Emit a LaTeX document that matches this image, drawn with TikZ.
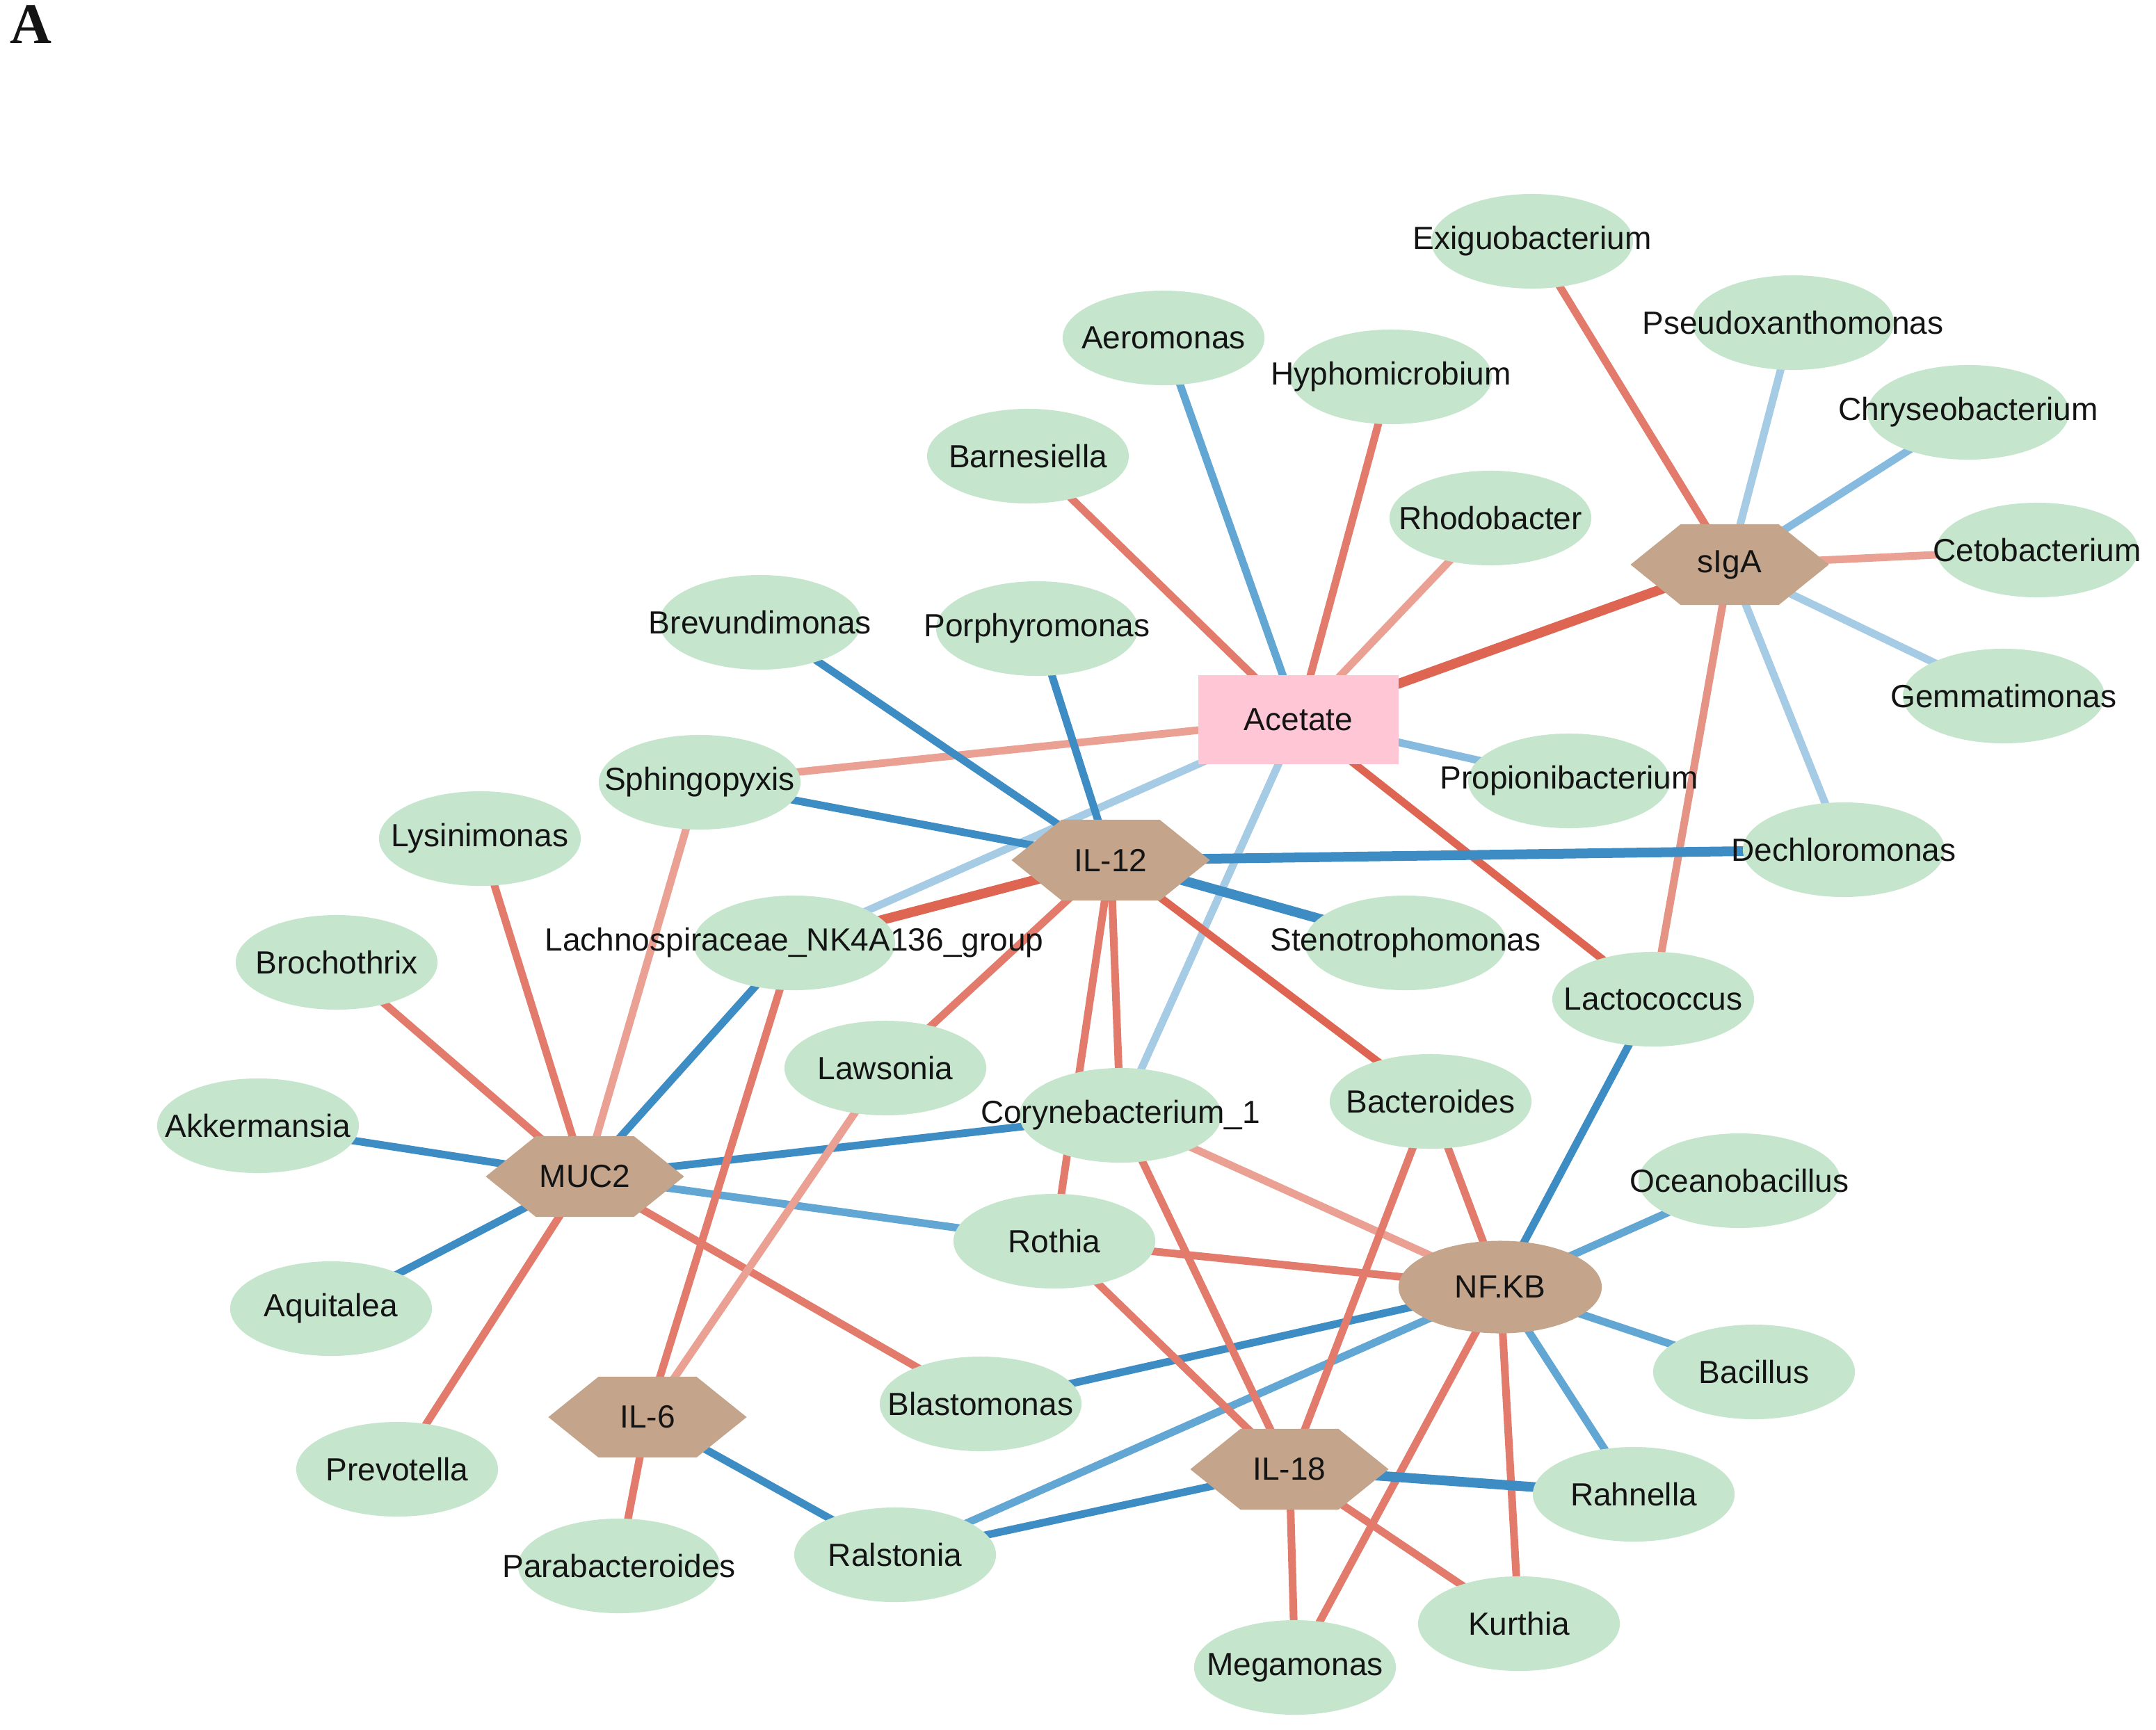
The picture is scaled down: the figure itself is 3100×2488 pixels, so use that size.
\documentclass[tikz,border=0pt]{standalone}
\usepackage{fontspec}
\setmainfont{Liberation Sans}
\newfontfamily\serifA{Liberation Serif}
\usetikzlibrary{shapes.geometric}
\definecolor{gfill}{HTML}{C5E5CD}
\definecolor{hexbrown}{HTML}{C4A48A}
\definecolor{pinkfill}{HTML}{FFC6D5}
\definecolor{cRa}{HTML}{DD6552}
\definecolor{cRb}{HTML}{E27B6B}
\definecolor{cRbl}{HTML}{E59385}
\definecolor{cRc}{HTML}{EAA194}
\definecolor{cBa}{HTML}{3D8DC4}
\definecolor{cBb}{HTML}{62A6D3}
\definecolor{cBbl}{HTML}{86BBDF}
\definecolor{cBc}{HTML}{A6CCE5}
\newcommand\lbl[1]{\makebox[0pt]{#1}}
\pgfdeclarelayer{bg}
\pgfsetlayers{bg,main}
\tikzset{
  every node/.style={font=\fontsize{13.1}{15}\selectfont, text=black!92},
  gnode/.style={ellipse, fill=gfill, minimum width=2.9cm, minimum height=1.36cm, inner sep=0pt},
  hexnode/.style={rectangle, minimum width=2.85cm, minimum height=1.16cm, inner sep=0pt,
    path picture={\fill[hexbrown] (path picture bounding box.west)
      -- ([xshift=0.72cm]path picture bounding box.north west)
      -- ([xshift=-0.72cm]path picture bounding box.north east)
      -- (path picture bounding box.east)
      -- ([xshift=-0.72cm]path picture bounding box.south east)
      -- ([xshift=0.72cm]path picture bounding box.south west) -- cycle;}},
  eRa/.style={draw=cRa, line width=0.11cm},
  eRA/.style={draw=cRa, line width=0.14cm},
  eRb/.style={draw=cRb, line width=0.11cm},
  eRbl/.style={draw=cRbl, line width=0.11cm},
  eRc/.style={draw=cRc, line width=0.11cm},
  eBa/.style={draw=cBa, line width=0.11cm},
  eBA/.style={draw=cBa, line width=0.14cm},
  eBb/.style={draw=cBb, line width=0.11cm},
  eBbl/.style={draw=cBbl, line width=0.11cm},
  eBc/.style={draw=cBc, line width=0.11cm}
}
\begin{document}
\begin{tikzpicture}[x=0.01cm,y=-0.01cm]
\useasboundingbox (0,0) rectangle (3100,2488);
\node[inner sep=0pt, font=\fontsize{23.6}{26}\selectfont\serifA\bfseries] (panel) at (44,35) {A};
% green nodes
\node[gnode] (exig) at (2203,347) {\lbl{Exiguobacterium}};
\node[gnode] (aero) at (1673,486) {\lbl{Aeromonas}};
\node[gnode] (hyph) at (2000,542) {\lbl{Hyphomicrobium}};
\node[gnode] (pseudo) at (2578,464) {\lbl{Pseudoxanthomonas}};
\node[gnode] (chry) at (2830,593) {\lbl{Chryseobacterium}};
\node[gnode] (barn) at (1478,656) {\lbl{Barnesiella}};
\node[gnode] (rhodo) at (2143,745) {\lbl{Rhodobacter}};
\node[gnode] (ceto) at (2929,791) {\lbl{Cetobacterium}};
\node[gnode] (brev) at (1093,895) {\lbl{Brevundimonas}};
\node[gnode] (porph) at (1491,904) {\lbl{Porphyromonas}};
\node[gnode] (gemm) at (2881,1001) {\lbl{Gemmatimonas}};
\node[gnode] (sphi) at (1006,1125) {\lbl{Sphingopyxis}};
\node[gnode] (propi) at (2256,1123) {\lbl{Propionibacterium}};
\node[gnode] (lysi) at (690,1206) {\lbl{Lysinimonas}};
\node[gnode] (dech) at (2651,1222) {\lbl{Dechloromonas}};
\node[gnode] (lach) at (1142,1356) {\lbl{Lachnospiraceae\_NK4A136\_group}};
\node[gnode] (steno) at (2021,1356) {\lbl{Stenotrophomonas}};
\node[gnode] (broch) at (484,1384) {\lbl{Brochothrix}};
\node[gnode] (lacto) at (2377,1437) {\lbl{Lactococcus}};
\node[gnode] (laws) at (1273,1536) {\lbl{Lawsonia}};
\node[gnode] (coryn) at (1611,1604) {\lbl{Corynebacterium\_1}};
\node[gnode] (bact) at (2057,1584) {\lbl{Bacteroides}};
\node[gnode] (akk) at (371,1619) {\lbl{Akkermansia}};
\node[gnode] (ocean) at (2501,1698) {\lbl{Oceanobacillus}};
\node[gnode] (roth) at (1516,1785) {\lbl{Rothia}};
\node[gnode] (aqui) at (476,1882) {\lbl{Aquitalea}};
\node[gnode] (bacil) at (2522,1973) {\lbl{Bacillus}};
\node[gnode] (blast) at (1410,2019) {\lbl{Blastomonas}};
\node[gnode] (rahn) at (2349,2149) {\lbl{Rahnella}};
\node[gnode] (prev) at (571,2113) {\lbl{Prevotella}};
\node[gnode] (parab) at (890,2252) {\lbl{Parabacteroides}};
\node[gnode] (ralst) at (1287,2236) {\lbl{Ralstonia}};
\node[gnode] (kurt) at (2184,2335) {\lbl{Kurthia}};
\node[gnode] (mega) at (1862,2398) {\lbl{Megamonas}};
% hub nodes
\node[rectangle, fill=pinkfill, minimum width=2.87cm, minimum height=1.28cm, inner sep=0pt] (acet) at (1867,1035) {Acetate};
\node[hexnode] (siga) at (2487,812) {sIgA};
\node[hexnode] (il12) at (1597,1237) {IL-12};
\node[hexnode] (muc2) at (841,1692) {MUC2};
\node[hexnode] (il6) at (931,2038) {IL-6};
\node[hexnode] (il18) at (1854,2113) {IL-18};
\node[ellipse, fill=hexbrown, minimum width=2.92cm, minimum height=1.33cm, inner sep=0pt] (nfkb) at (2157,1851) {NF.KB};
% edges
\begin{pgfonlayer}{bg}
% Acetate
\path[eRb] (acet.center) -- (barn.center);
\path[eBb] (acet.center) -- (aero.center);
\path[eRb] (acet.center) -- (hyph.center);
\path[eRc] (acet.center) -- (rhodo.center);
\path[eRA] (acet.center) -- (siga.center);
\path[eBbl] (acet.center) -- (propi.center);
\path[eRa] (acet.center) -- (lacto.center);
\path[eRc] (acet.center) -- (sphi.center);
\path[eBc] (acet.center) -- (lach.center);
\path[eBc] (acet.center) -- (coryn.center);
% sIgA
\path[eRb] (siga.center) -- (exig.center);
\path[eBc] (siga.center) -- (pseudo.center);
\path[eBbl] (siga.center) -- (chry.center);
\path[eRc] (siga.center) -- (ceto.center);
\path[eBc] (siga.center) -- (gemm.center);
\path[eBc] (siga.center) -- (dech.center);
\path[eRbl] (siga.center) -- (lacto.center);
% IL-12
\path[eBa] (il12.center) -- (brev.center);
\path[eBa] (il12.center) -- (porph.center);
\path[eBa] (il12.center) -- (sphi.center);
\path[eBA] (il12.center) -- (dech.center);
\path[eBA] (il12.center) -- (steno.center);
\path[eRA] (il12.center) -- (lach.center);
\path[eRb] (il12.center) -- (laws.center);
\path[eRb] (il12.center) -- (roth.center);
\path[eRb] (il12.center) -- (coryn.center);
\path[eRa] (il12.center) -- (bact.center);
% MUC2
\path[eRb] (muc2.center) -- (lysi.center);
\path[eRc] (muc2.center) -- (sphi.center);
\path[eRb] (muc2.center) -- (broch.center);
\path[eBa] (muc2.center) -- (lach.center);
\path[eBa] (muc2.center) -- (akk.center);
\path[eBa] (muc2.center) -- (coryn.center);
\path[eBb] (muc2.center) -- (roth.center);
\path[eBa] (muc2.center) -- (aqui.center);
\path[eRb] (muc2.center) -- (prev.center);
\path[eRb] (muc2.center) -- (blast.center);
% IL-6
\path[eRb] (il6.center) -- (lach.center);
\path[eRc] (il6.center) -- (laws.center);
\path[eRb] (il6.center) -- (parab.center);
\path[eBa] (il6.center) -- (ralst.center);
% NF.KB
\path[eBa] (nfkb.center) -- (lacto.center);
\path[eBb] (nfkb.center) -- (ocean.center);
\path[eBb] (nfkb.center) -- (bacil.center);
\path[eBb] (nfkb.center) -- (rahn.center);
\path[eRb] (nfkb.center) -- (kurt.center);
\path[eRb] (nfkb.center) -- (mega.center);
\path[eRb] (nfkb.center) -- (bact.center);
\path[eRc] (nfkb.center) -- (coryn.center);
\path[eRb] (nfkb.center) -- (roth.center);
\path[eBa] (nfkb.center) -- (blast.center);
\path[eBb] (nfkb.center) -- (ralst.center);
% IL-18
\path[eRb] (il18.center) -- (roth.center);
\path[eRb] (il18.center) -- (coryn.center);
\path[eRb] (il18.center) -- (bact.center);
\path[eBA] (il18.center) -- (rahn.center);
\path[eRb] (il18.center) -- (kurt.center);
\path[eRb] (il18.center) -- (mega.center);
\path[eBa] (il18.center) -- (ralst.center);
\end{pgfonlayer}
\end{tikzpicture}
\end{document}
